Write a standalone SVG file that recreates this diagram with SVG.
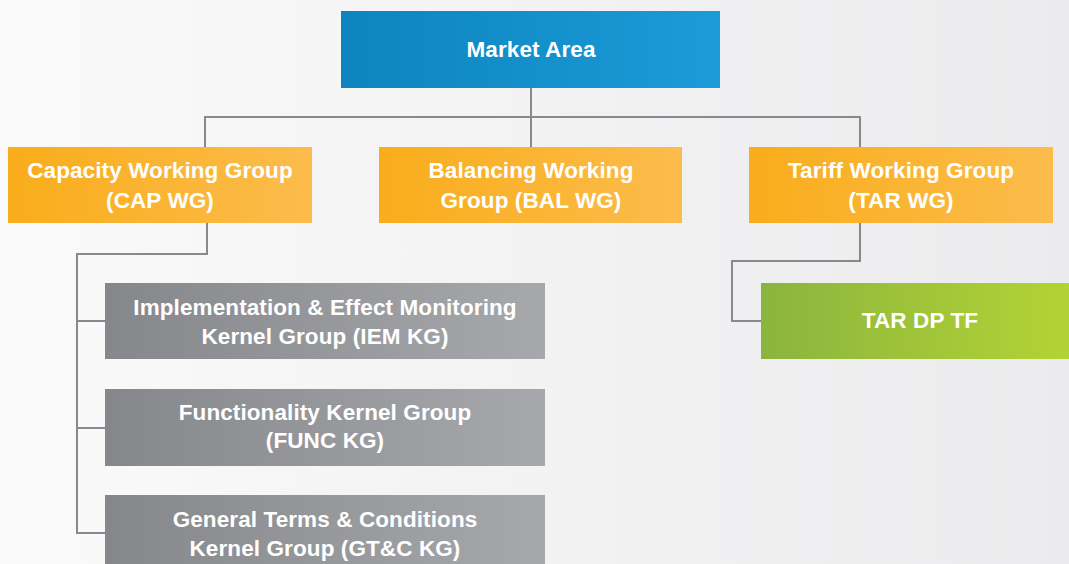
<svg xmlns="http://www.w3.org/2000/svg" width="1069" height="564" viewBox="0 0 1069 564">
<defs>
<linearGradient id="bg" x1="0" y1="0" x2="1" y2="0"><stop offset="0" stop-color="#FAFAFA"/><stop offset="1" stop-color="#EBEBED"/></linearGradient>
<linearGradient id="blue" x1="0" y1="0" x2="1" y2="0"><stop offset="0" stop-color="#0D84BE"/><stop offset="1" stop-color="#1B9BD8"/></linearGradient>
<linearGradient id="orange" x1="0" y1="0" x2="1" y2="0"><stop offset="0" stop-color="#F9AD1B"/><stop offset="1" stop-color="#FCBC4C"/></linearGradient>
<linearGradient id="grey" x1="0" y1="0" x2="1" y2="0"><stop offset="0" stop-color="#86878B"/><stop offset="1" stop-color="#A7A8AC"/></linearGradient>
<linearGradient id="green" x1="0" y1="0" x2="1" y2="0"><stop offset="0" stop-color="#8BB43F"/><stop offset="1" stop-color="#B3D334"/></linearGradient>
</defs>
<style>
text{font-family:"Liberation Sans",Arial,sans-serif;font-weight:bold;font-size:22.5px;fill:#FFFFFF;text-anchor:middle;letter-spacing:0.1px}
.c{fill:none;stroke:#88898D;stroke-width:2}
</style>
<rect x="0" y="0" width="1069" height="564" fill="url(#bg)"/>
<g id="connectors">
<path class="c" d="M531 88V147M205 147V117H860V147M531 117V147"/>
<path class="c" d="M207 223V254H77V533H105M77 321H105M77 428H105"/>
<path class="c" d="M860 223V261H732V321H761"/>
</g>
<g id="market-area"><rect x="341" y="11" width="379" height="77" fill="url(#blue)"/><text x="531" y="57">Market Area</text></g>
<g id="cap-wg"><rect x="8" y="147" width="304" height="76" fill="url(#orange)"/><text x="160" y="178">Capacity Working Group</text><text x="160" y="208">(CAP WG)</text></g>
<g id="bal-wg"><rect x="379" y="147" width="303" height="76" fill="url(#orange)"/><text x="531" y="178">Balancing Working</text><text x="531" y="208">Group (BAL WG)</text></g>
<g id="tar-wg"><rect x="749" y="147" width="304" height="76" fill="url(#orange)"/><text x="901" y="178">Tariff Working Group</text><text x="901" y="208">(TAR WG)</text></g>
<g id="iem-kg"><rect x="105" y="283" width="440" height="76" fill="url(#grey)"/><text x="325" y="315">Implementation &amp; Effect Monitoring</text><text x="325" y="344">Kernel Group (IEM KG)</text></g>
<g id="func-kg"><rect x="105" y="389" width="440" height="77" fill="url(#grey)"/><text x="325" y="420">Functionality Kernel Group</text><text x="325" y="448">(FUNC KG)</text></g>
<g id="gtc-kg"><rect x="105" y="495" width="440" height="75" fill="url(#grey)"/><text x="325" y="527">General Terms &amp; Conditions</text><text x="325" y="556">Kernel Group (GT&amp;C KG)</text></g>
<g id="tar-dp-tf"><rect x="761" y="283" width="308" height="76" fill="url(#green)"/><text x="920" y="328">TAR DP TF</text></g>
</svg>
